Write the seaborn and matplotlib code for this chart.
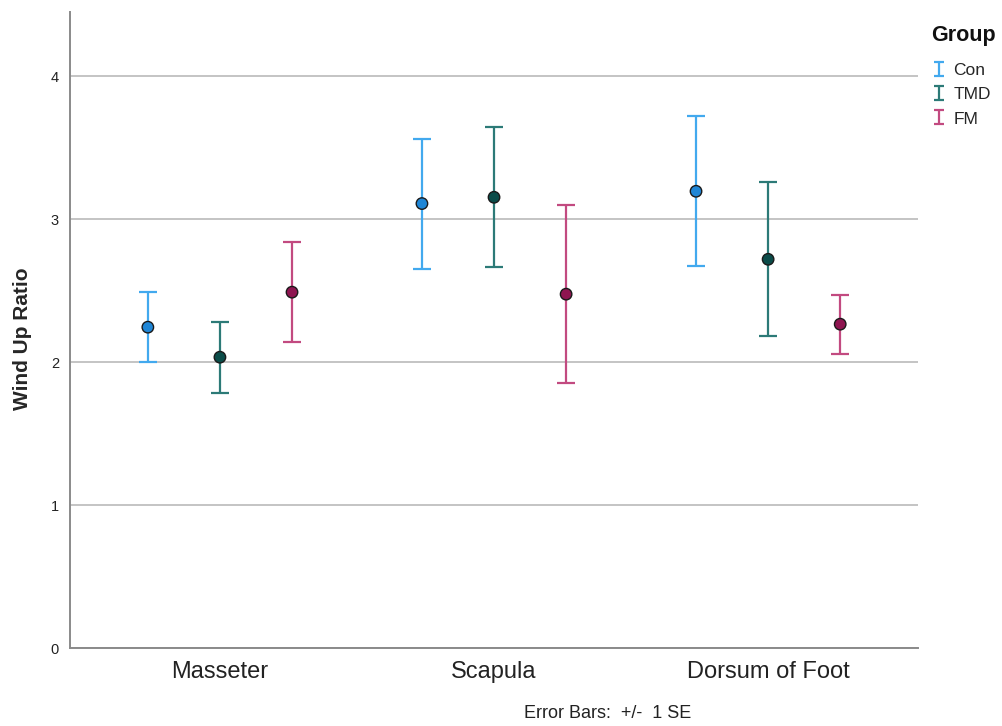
import numpy as np
import pandas as pd
import matplotlib
matplotlib.use("Agg")
import matplotlib.pyplot as plt
from matplotlib.path import Path
from matplotlib.lines import Line2D
import seaborn as sns

# Wind-up ratio summary: group means and standard errors per test site
sites = ["Masseter", "Scapula", "Dorsum of Foot"]
groups = ["Con", "TMD", "FM"]
mean_con = [2.245, 3.110, 3.196]
mean_tmd = [2.035, 3.154, 2.720]
mean_fm = [2.490, 2.476, 2.266]
se_con = [0.245, 0.455, 0.525]
se_tmd = [0.248, 0.490, 0.540]
se_fm = [0.350, 0.622, 0.207]
y_ticks = [0, 1, 2, 3, 4]

bar_colors = {"Con": "#42a9ee", "TMD": "#2c7a77", "FM": "#c24a80"}
dot_colors = {"Con": "#1f86d6", "TMD": "#0b4c49", "FM": "#8e1550"}

means = {"Con": mean_con, "TMD": mean_tmd, "FM": mean_fm}
ses = {"Con": se_con, "TMD": se_tmd, "FM": se_fm}

dodge = [-0.263, 0.0, 0.263]
rows = []
for gi, g in enumerate(groups):
    for si, s in enumerate(sites):
        rows.append({"Site": s, "Group": g, "x": si + dodge[gi],
                     "Mean": means[g][si], "SE": ses[g][si]})
df = pd.DataFrame(rows)

sns.set_style("white")
plt.rcParams["font.family"] = ["Liberation Sans", "DejaVu Sans"]

fig = plt.figure(figsize=(10.03, 7.26), dpi=100)
ax = fig.add_axes([0.0698, 0.1074, 0.8455, 0.876])

for g in groups:
    sub = df[df["Group"] == g]
    ax.errorbar(sub["x"], sub["Mean"], yerr=sub["SE"], fmt="none",
                ecolor=bar_colors[g], elinewidth=1.6, capsize=6.5,
                capthick=1.6, zorder=2)

sns.scatterplot(data=df, x="x", y="Mean", hue="Group", palette=dot_colors,
                hue_order=groups, s=68, edgecolor="#1a1a1a", linewidth=1.0,
                legend=False, zorder=3, ax=ax)

ax.set_xlim(-0.547, 2.547)
ax.set_ylim(0, 4.45)
ax.set_xticks(range(len(sites)))
ax.set_xticklabels(sites, fontsize=17, color="#222222")
ax.set_yticks(y_ticks)
ax.set_yticklabels([str(t) for t in y_ticks], fontsize=10.5, color="#222222")
ax.tick_params(axis="both", length=0)
ax.tick_params(axis="x", pad=9)
ax.tick_params(axis="y", pad=8)
ax.set_xlabel("")
ax.set_ylabel("Wind Up Ratio", fontsize=15, fontweight="bold")
ax.yaxis.set_label_coords(-0.0566, 0.486)
ax.yaxis.label.set_va("center")

ax.yaxis.grid(True, color="#c4c4c4", linewidth=1.4)
ax.xaxis.grid(False)
ax.set_axisbelow(True)
for side in ["top", "right"]:
    ax.spines[side].set_visible(False)
for side in ["left", "bottom"]:
    ax.spines[side].set_color("#8a8a8a")
    ax.spines[side].set_linewidth(1.4)

# I-beam legend symbol for the error-bar groups
ibeam = Path([(-0.35, 0.5), (0.35, 0.5), (0, 0.5), (0, -0.5),
              (-0.35, -0.5), (0.35, -0.5)],
             [Path.MOVETO, Path.LINETO, Path.MOVETO, Path.LINETO,
              Path.MOVETO, Path.LINETO])
handles = [Line2D([], [], linestyle="none", marker=ibeam, markersize=9.5,
                  markeredgewidth=1.6, markeredgecolor=bar_colors[g],
                  markerfacecolor="none") for g in groups]
fig.text(931 / 1003, 1 - 36 / 726, "Group", ha="left", va="center",
         fontsize=15.5, fontweight="bold", color="#111111")
leg = fig.legend(handles, groups, loc="upper left",
                 bbox_to_anchor=(0.929, 1 - 63 / 726), frameon=False,
                 fontsize=12.5, handlelength=0.8, handletextpad=0.45,
                 labelspacing=0.52, borderaxespad=0, borderpad=0)

fig.text(0.606, 0.006, "Error Bars:  +/-  1 SE", ha="center", va="bottom",
         fontsize=13, color="#222222")

fig.savefig("out.png", dpi=100)
